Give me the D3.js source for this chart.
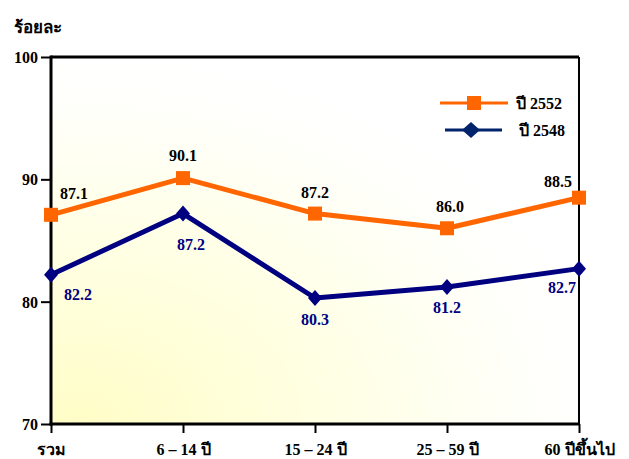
<!DOCTYPE html>
<html><head><meta charset="utf-8">
<script src="https://cdn.jsdelivr.net/npm/d3@7"></script>
<style>body{margin:0;background:#fff;}</style>
</head>
<body>
<svg id="c" width="629" height="459"></svg>
<script>
const categories = ["รวม", "6 – 14 ปี", "15 – 24 ปี", "25 – 59 ปี", "60 ปีขึ้นไป"];
const series2552 = [87.1, 90.1, 87.2, 86.0, 88.5];
const series2548 = [82.2, 87.2, 80.3, 81.2, 82.7];
const yTicks = [70, 80, 90, 100];
const seriesNames = ["ปี 2552", "ปี 2548"];

const FONT = "Liberation Serif";
const svg = d3.select("#c");
const L = 51, R = 579, T = 57, B = 424;
const x = d3.scalePoint().domain(categories).range([L, R]);
const y = d3.scaleLinear().domain([70, 100]).range([B, T]);

const defs = svg.append("defs");
const g = defs.append("radialGradient").attr("id","bg").attr("cx",0.05).attr("cy",1).attr("r",1.0).attr("fx",0.05).attr("fy",1);
g.append("stop").attr("offset",0).attr("stop-color","#FFFDC6");
g.append("stop").attr("offset",0.45).attr("stop-color","#FFFFE2");
g.append("stop").attr("offset",0.85).attr("stop-color","#FFFFFA");
g.append("stop").attr("offset",1).attr("stop-color","#FFFFFF");

svg.append("rect").attr("x",L).attr("y",T).attr("width",R-L).attr("height",B-T).attr("fill","url(#bg)");

// frame
svg.append("line").attr("x1",L).attr("x2",R).attr("y1",T).attr("y2",T).attr("stroke","#000").attr("stroke-width",3);
svg.append("line").attr("x1",R).attr("x2",R).attr("y1",T).attr("y2",B).attr("stroke","#000").attr("stroke-width",2);

// axes
const yAxis = d3.axisLeft(y).tickValues(yTicks).tickSize(10).tickPadding(3);
const ya = svg.append("g").attr("transform",`translate(${L},0)`).call(yAxis).attr("font-family",FONT).attr("font-weight","bold").attr("font-size",16);
ya.select(".domain").attr("stroke-width",3).attr("d",`M0,${T-1.5}V${B+1.5}`);
ya.selectAll(".tick line").attr("stroke-width",2);
ya.selectAll(".tick text").attr("fill","#000").attr("dy","0.34em");

const xAxis = d3.axisBottom(x).tickSize(9).tickPadding(11);
const xa = svg.append("g").attr("transform",`translate(0,${B})`).call(xAxis).attr("font-family",FONT).attr("font-weight","bold").attr("font-size",16);
xa.select(".domain").attr("stroke-width",3).attr("d",`M${L-1.5},0H${R+1}`);
xa.selectAll(".tick line").attr("stroke-width",2);
xa.selectAll(".tick text").attr("fill","#000");

svg.append("text").attr("font-family",FONT).attr("font-weight","bold").attr("x",14).attr("y",33).attr("font-size",17).attr("fill","#000").text("ร้อยละ");

const line = d3.line().x((d,i)=>x(categories[i])).y(d=>y(d));
const ORANGE = "#FF6600", NAVY = "#000080";

svg.append("path").datum(series2548).attr("d",line).attr("fill","none").attr("stroke",NAVY).attr("stroke-width",5).attr("stroke-linejoin","round");
svg.append("path").datum(series2552).attr("d",line).attr("fill","none").attr("stroke",ORANGE).attr("stroke-width",5).attr("stroke-linejoin","round");

svg.selectAll(".dia").data(series2548).enter().append("path")
  .attr("d","M0,-8L7,0L0,8L-7,0Z").attr("fill",NAVY)
  .attr("transform",(d,i)=>`translate(${x(categories[i])},${y(d)})`);
svg.selectAll(".sq").data(series2552).enter().append("rect")
  .attr("x",(d,i)=>x(categories[i])-7).attr("y",d=>y(d)-7).attr("width",14).attr("height",14).attr("fill",ORANGE);

// value labels
const offO = [[23,-16],[0,-17],[0,-16],[3,-16],[-21,-11]];
const offB = [[27,25],[8,36],[0,27],[0,26],[-17,24]];
const lab = svg.append("g").attr("font-family",FONT).attr("font-weight","bold").attr("font-size",16).attr("text-anchor","middle");
lab.selectAll(".lo").data(series2552).enter().append("text")
  .attr("x",(d,i)=>x(categories[i])+offO[i][0]).attr("y",(d,i)=>y(d)+offO[i][1])
  .attr("fill","#000").text(d=>d.toFixed(1));
lab.selectAll(".lb").data(series2548).enter().append("text")
  .attr("x",(d,i)=>x(categories[i])+offB[i][0]).attr("y",(d,i)=>y(d)+offB[i][1])
  .attr("fill",NAVY).text(d=>d.toFixed(1));

// legend
const lg = svg.append("g").attr("font-family",FONT).attr("font-weight","bold").attr("font-size",16);
lg.append("line").attr("x1",440).attr("x2",508).attr("y1",103).attr("y2",103).attr("stroke",ORANGE).attr("stroke-width",3);
lg.append("rect").attr("x",467).attr("y",96).attr("width",14).attr("height",14).attr("fill",ORANGE);
lg.append("text").attr("x",516).attr("y",109).attr("fill","#000").text(seriesNames[0]);
lg.append("line").attr("x1",445).attr("x2",502).attr("y1",130).attr("y2",130).attr("stroke","#00236B").attr("stroke-width",3);
lg.append("path").attr("d","M0,-8L9,0L0,8L-9,0Z").attr("fill","#00236B").attr("transform","translate(471,130)");
lg.append("text").attr("x",519).attr("y",136).attr("fill","#000").text(seriesNames[1]);
</script>
</body></html>
